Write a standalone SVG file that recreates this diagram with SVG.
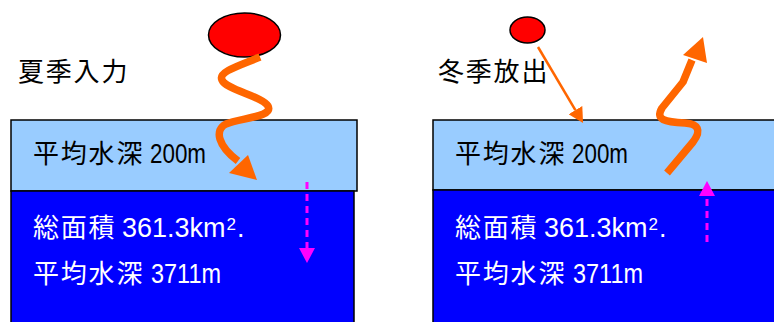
<svg xmlns="http://www.w3.org/2000/svg" width="774" height="322" viewBox="0 0 774 322">
<style>
.cjk{font-family:"Noto Sans CJK JP","Noto Sans CJK SC",sans-serif;font-size:26px;letter-spacing:1.8px}
.lat{font-family:"Liberation Sans",Arial,sans-serif;font-size:28px}
.lat2{font-family:"Liberation Sans",Arial,sans-serif;font-size:27px}
.sup{font-size:17px}
.dark{fill:#000}
.white{fill:#fff}
.shallow{fill:#99CCFF;stroke:#000;stroke-width:1.5}
.deep{fill:#0000FF;stroke:#000;stroke-width:1.5}
.sun{fill:#FF0000;stroke:#000;stroke-width:1.5}
.wave{fill:none;stroke:#FF6600;stroke-width:7.5;stroke-linejoin:round}
.head{fill:#FF6600}
.thin{fill:none;stroke:#FF6600;stroke-width:2.5}
.flow{fill:none;stroke:#FF00FF;stroke-width:3;stroke-dasharray:7 5}
</style>
<defs>
<marker id="mag" viewBox="0 0 15 16" markerWidth="15" markerHeight="16" refX="0" refY="8" orient="auto" markerUnits="userSpaceOnUse">
<path d="M0,0 L15,8 L0,16 z" fill="#FF00FF"/>
</marker>
<marker id="org" viewBox="0 0 15 16" markerWidth="15" markerHeight="16" refX="0" refY="8" orient="auto" markerUnits="userSpaceOnUse">
<path d="M0,0 L15,8 L0,16 z" fill="#FF6600"/>
</marker>
</defs>
<rect width="774" height="322" fill="#fff"/>

<g id="summer-panel">
<g id="summer-shallow">
<rect class="shallow" x="11" y="120" width="346" height="71"/>
<text class="cjk dark" x="33" y="163">平均水深</text>
<text class="lat dark" x="150" y="163" textLength="56" lengthAdjust="spacingAndGlyphs">200m</text>
</g>
<g id="summer-deep">
<rect class="deep" x="11" y="191" width="343" height="140"/>
<text class="cjk white" x="33" y="237">総面積</text>
<text class="lat2 white" x="122" y="237">361.3km<tspan class="sup" dx="1" dy="-7">2</tspan><tspan dx="1" dy="7">.</tspan></text>
<text class="cjk white" x="33" y="283">平均水深</text>
<text class="lat white" x="151" y="283" textLength="70" lengthAdjust="spacingAndGlyphs">3711m</text>
</g>
<g id="summer-sun">
<ellipse class="sun" cx="244.5" cy="35" rx="36" ry="22"/>
</g>
<g id="summer-label">
<text class="cjk dark" x="18" y="81">夏季入力</text>
</g>
</g>

<g id="winter-panel">
<g id="winter-shallow">
<rect class="shallow" x="433" y="120" width="350" height="70"/>
<text class="cjk dark" x="455" y="163">平均水深</text>
<text class="lat dark" x="572" y="163" textLength="56" lengthAdjust="spacingAndGlyphs">200m</text>
</g>
<g id="winter-deep">
<rect class="deep" x="433" y="190" width="350" height="140"/>
<text class="cjk white" x="455" y="237">総面積</text>
<text class="lat2 white" x="544" y="237">361.3km<tspan class="sup" dx="1" dy="-7">2</tspan><tspan dx="1" dy="7">.</tspan></text>
<text class="cjk white" x="455" y="283">平均水深</text>
<text class="lat white" x="573" y="283" textLength="70" lengthAdjust="spacingAndGlyphs">3711m</text>
</g>
<g id="winter-sun">
<ellipse class="sun" cx="527.5" cy="30" rx="17.5" ry="13"/>
</g>
<g id="winter-label">
<text class="cjk dark" x="438" y="81">冬季放出</text>
</g>
</g>

<g id="connectors">
<path class="wave" d="M260,57 C238,66 218,72 222,80 C226,90 262,96 268,106 C274,117 240,118 226,124 C214,130 218,146 238,161"/>
<polygon class="head" points="257,180 229,173 248,155"/>
<line class="flow" x1="307" y1="182" x2="307" y2="248" marker-end="url(#mag)"/>
<line class="thin" x1="538" y1="47" x2="575.4" y2="110.1" marker-end="url(#org)"/>
<path class="wave" d="M667,173 L693,142 C702,130 698,124 685,123 C665,122 655,120 662,108 L683,82 L692,60"/>
<polygon class="head" points="703,37 683,55 707,63"/>
<line class="flow" x1="707" y1="242" x2="707" y2="196" marker-end="url(#mag)"/>
</g>
</svg>
